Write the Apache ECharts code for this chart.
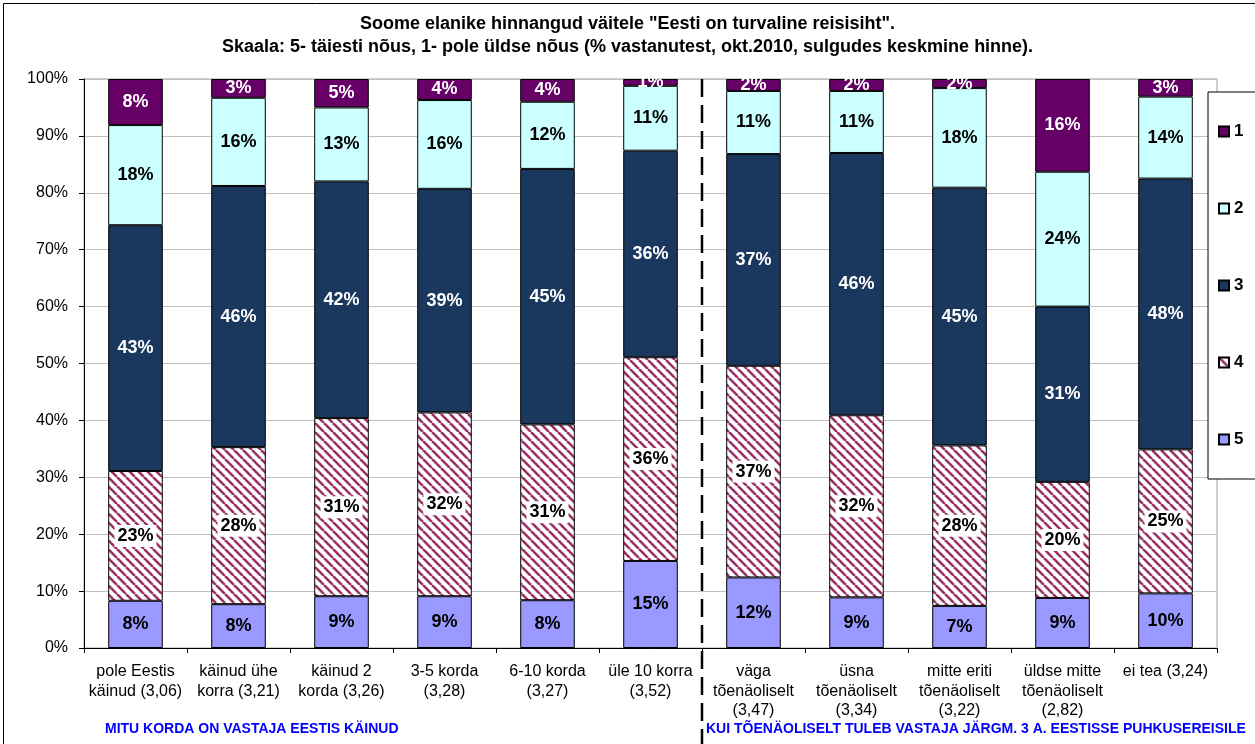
<!DOCTYPE html>
<html>
<head>
<meta charset="utf-8">
<script src="https://cdn.jsdelivr.net/npm/echarts@6/dist/echarts.min.js"></script>
<style>
  html, body { margin: 0; padding: 0; background: #fff; }
  #main { width: 1255px; height: 744px; }
</style>
</head>
<body>
<div id="main"></div>
<script>
// categories (average score in brackets)
const categories = [
  'pole Eestis\nkäinud (3,06)',
  'käinud ühe\nkorra (3,21)',
  'käinud 2\nkorda (3,26)',
  '3-5 korda\n(3,28)',
  '6-10 korda\n(3,27)',
  'üle 10 korra\n(3,52)',
  'väga\ntõenäoliselt\n(3,47)',
  'üsna\ntõenäoliselt\n(3,34)',
  'mitte eriti\ntõenäoliselt\n(3,22)',
  'üldse mitte\ntõenäoliselt\n(2,82)',
  'ei tea (3,24)'
];
// % of respondents
const s5 = [8.3, 7.7, 9.1, 9.1, 8.4, 15.3, 12.4, 8.9, 7.4, 8.8, 9.6];
const s4 = [22.8, 27.6, 31.3, 32.3, 30.9, 35.8, 37.2, 32.0, 28.2, 20.4, 25.3];
const s3 = [43.2, 45.9, 41.6, 39.3, 44.9, 36.3, 37.2, 46.1, 45.3, 30.8, 47.6];
const s2 = [17.6, 15.5, 13.0, 15.6, 11.8, 11.4, 11.1, 10.9, 17.5, 23.7, 14.4];
const s1 = [8.1, 3.3, 5.0, 3.7, 4.0, 1.2, 2.1, 2.1, 1.6, 16.3, 3.1];
const legendNames = ['1', '2', '3', '4', '5'];
const yTicks = { min: 0, max: 100, interval: 10 };

const FONT = '"Liberation Sans", Arial, sans-serif';

// striped fill for "4"
function stripePattern() {
  const c = document.createElement('canvas');
  c.width = 9; c.height = 9;
  const ctx = c.getContext('2d');
  ctx.fillStyle = '#fff';
  ctx.fillRect(0, 0, 9, 9);
  ctx.strokeStyle = '#993366';
  ctx.lineWidth = 2.6;
  for (let k = -9; k <= 9; k += 9) {
    ctx.beginPath();
    ctx.moveTo(k, 0);
    ctx.lineTo(k + 9, 9);
    ctx.stroke();
  }
  return { image: c, repeat: 'repeat' };
}

function pct(p) { return Math.round(p.value) + '%'; }

function makeSeries(name, data, color, labelColor, extraLabel) {
  return {
    name: name,
    type: 'bar',
    stack: 'total',
    barWidth: '53%',
    data: data,
    itemStyle: { color: color, borderColor: '#000', borderWidth: 1 },
    label: Object.assign({
      show: true,
      position: 'inside',
      formatter: pct,
      color: labelColor,
      fontFamily: FONT,
      fontWeight: 'bold',
      fontSize: 18
    }, extraLabel || {}),
    emphasis: { disabled: true }
  };
}

const chart = echarts.init(document.getElementById('main'));

chart.setOption({
  backgroundColor: '#fff',
  animation: false,
  title: {
    text: 'Soome elanike hinnangud väitele "Eesti on turvaline reisisiht".\nSkaala: 5- täiesti nõus, 1- pole üldse nõus (% vastanutest, okt.2010, sulgudes keskmine hinne).',
    left: 'center',
    top: 8,
    textStyle: {
      fontFamily: FONT,
      fontSize: 18,
      fontWeight: 'bold',
      color: '#000',
      lineHeight: 23
    }
  },
  legend: {
    data: legendNames,
    orient: 'vertical',
    left: 1208,
    top: 92,
    padding: [31, 40, 31, 10],
    itemWidth: 10,
    itemHeight: 10,
    itemGap: 60,
    icon: 'rect',
    backgroundColor: '#fff',
    borderColor: '#000',
    borderWidth: 1,
    textStyle: { fontFamily: FONT, fontSize: 17, fontWeight: 'bold', color: '#000' }
  },
  grid: {
    left: 84,
    right: 38,
    top: 79,
    bottom: 96,
    show: true,
    borderColor: '#a0a0a0',
    borderWidth: 1
  },
  xAxis: {
    type: 'category',
    data: categories,
    axisLine: { lineStyle: { color: '#000', width: 1 } },
    axisTick: { show: true, length: 5, lineStyle: { color: '#000' } },
    axisLabel: {
      interval: 0,
      margin: 14,
      fontFamily: FONT,
      fontSize: 16,
      lineHeight: 19.5,
      color: '#000'
    }
  },
  yAxis: {
    type: 'value',
    min: yTicks.min,
    max: yTicks.max,
    interval: yTicks.interval,
    axisLine: { show: true, lineStyle: { color: '#000', width: 1 } },
    axisTick: { show: true, length: 5, lineStyle: { color: '#000' } },
    axisLabel: {
      formatter: '{value}%',
      margin: 16,
      fontFamily: FONT,
      fontSize: 16,
      color: '#000'
    },
    splitLine: { lineStyle: { color: '#c0c0c0', width: 1 } }
  },
  series: [
    makeSeries('5', s5, '#9999ff', '#000'),
    makeSeries('4', s4, stripePattern(), '#000', { backgroundColor: '#fff', padding: [2, 3] }),
    makeSeries('3', s3, '#1a375e', '#fff'),
    makeSeries('2', s2, '#ccffff', '#000'),
    makeSeries('1', s1, '#660066', '#fff')
  ]
});

// divider between the two groups of categories
const xa = chart.convertToPixel({ xAxisIndex: 0 }, 5);
const xb = chart.convertToPixel({ xAxisIndex: 0 }, 6);
const xDiv = Math.round((xa + xb) / 2);
const yTop = chart.convertToPixel({ yAxisIndex: 0 }, 100);

chart.setOption({
  graphic: [
    {
      type: 'rect',
      silent: true,
      shape: { x: 3.5, y: 3.5, width: 1270, height: 760 },
      style: { fill: null, stroke: '#000', lineWidth: 1 }
    },
    {
      type: 'line',
      silent: true,
      z: 100,
      shape: { x1: xDiv, y1: yTop, x2: xDiv, y2: 744 },
      style: { stroke: '#000', lineWidth: 2.5, lineDash: [18, 8] }
    },
    {
      type: 'text',
      left: 105,
      top: 722,
      style: {
        text: 'MITU KORDA ON VASTAJA EESTIS KÄINUD',
        fill: '#0000ff',
        font: 'bold 14px ' + FONT
      }
    },
    {
      type: 'text',
      left: xDiv + 4,
      top: 722,
      style: {
        text: 'KUI TÕENÄOLISELT TULEB VASTAJA JÄRGM. 3 A. EESTISSE PUHKUSEREISILE',
        fill: '#0000ff',
        font: 'bold 14px ' + FONT
      }
    }
  ]
});
</script>
</body>
</html>
